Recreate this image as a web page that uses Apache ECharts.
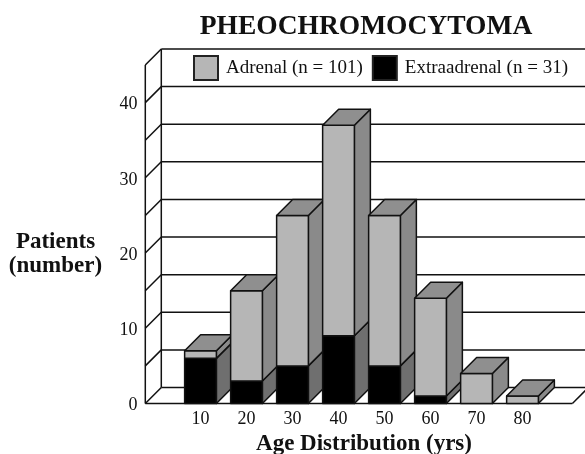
<!DOCTYPE html>
<html><head><meta charset="utf-8">
<style>html,body{margin:0;padding:0;background:#fff}#c{width:585px;height:454px}</style>
<script src="https://cdn.jsdelivr.net/npm/echarts@6/dist/echarts.min.js"></script>
</head><body><div id="c"></div>
<script>
const ages = [10, 20, 30, 40, 50, 60, 70, 80];
const adrenal = [1, 12, 20, 28, 20, 13, 4, 1];
const extraadrenal = [6, 3, 5, 9, 5, 1, 0, 0];
const gridValues = [0, 5, 10, 15, 20, 25, 30, 35, 40, 45];
const titleText = 'PHEOCHROMOCYTOMA';
const xName = 'Age Distribution (yrs)';
const yName = 'Patients\n(number)';
const adrenalName = 'Adrenal (n = 101)';
const extraName = 'Extraadrenal (n = 31)';

const SERIF = '"Liberation Serif","Times New Roman",serif';
const DEPTH = 16, BAR_W = 6.9, X_LEFT = -2, X_RIGHT = 90.85, STROKE = '#111', LW = 1.5;

function poly(points, fill, z2) {
  return {type: 'polygon', shape: {points}, z2, style: {fill, stroke: STROKE, lineWidth: LW, lineJoin: 'round'}};
}
function seg(a, b, z2) {
  return {type: 'line', shape: {x1: a[0], y1: a[1], x2: b[0], y2: b[1]}, z2, style: {stroke: STROKE, lineWidth: LW, fill: null}};
}
function frameItem(params, api) {
  const v = api.value(0);
  const l = api.coord([X_LEFT, v]), r = api.coord([X_RIGHT, v]);
  const children = [
    seg(l, [l[0] + DEPTH, l[1] - DEPTH], 1),
    seg([l[0] + DEPTH, l[1] - DEPTH], [r[0] + DEPTH, r[1] - DEPTH], 1)
  ];
  if (v === 0) {
    children.push(seg(l, r, 1), seg(r, [r[0] + DEPTH, r[1] - DEPTH], 1));
    const t = api.coord([X_LEFT, gridValues[gridValues.length - 1]]);
    children.push(seg(l, t, 1), seg([l[0] + DEPTH, l[1] - DEPTH], [t[0] + DEPTH, t[1] - DEPTH], 1));
  }
  return {type: 'group', children};
}
function barItem(front, side, top, order) {
  return function (params, api) {
    const age = api.value(0), val = api.value(1), base = api.value(2);
    if (!val) return {type: 'group', children: []};
    const a = api.coord([age - BAR_W / 2, base + val]);
    const b = api.coord([age + BAR_W / 2, base + val]);
    const c = api.coord([age + BAR_W / 2, base]);
    const d = api.coord([age - BAR_W / 2, base]);
    const off = p => [p[0] + DEPTH, p[1] - DEPTH];
    const z = params.dataIndex * 10 + 5 + order;
    const kids = [
      poly([b, c, off(c), off(b)], side, z),
      poly([a, b, c, d], front, z + 1)
    ];
    if (order === 1) kids.push(poly([a, b, off(b), off(a)], top, z + 1));
    return {type: 'group', children: kids};
  };
}
const adrenalData = ages.map((g, i) => [g, adrenal[i], extraadrenal[i]]);
const extraData = ages.map((g, i) => [g, extraadrenal[i], 0]);

const chart = echarts.init(document.getElementById('c'), null, {renderer: 'canvas'});
chart.setOption({
  animation: false,
  backgroundColor: '#fff',
  title: [
    {text: titleText, left: 361, top: 8, textAlign: 'center', textStyle: {fontFamily: SERIF, fontWeight: 'bold', fontSize: 27.5, color: '#111'}},
    {text: xName, left: 359, top: 428, textAlign: 'center', textStyle: {fontFamily: SERIF, fontWeight: 'bold', fontSize: 23, color: '#111'}},
    {text: yName, left: 50.5, top: 225, textAlign: 'center', textStyle: {fontFamily: SERIF, fontWeight: 'bold', fontSize: 23, lineHeight: 24, color: '#111'}}
  ],
  legend: {
    left: 193, top: 55, itemWidth: 24, itemHeight: 24, itemGap: 9,
    padding: 0,
    icon: 'rect',
    selectedMode: false,
    data: [adrenalName, extraName],
    textStyle: {fontFamily: SERIF, fontSize: 19, color: '#111', padding: [1, 0, 0, 3]}
  },
  grid: {left: 154.5, width: 414, top: 65, height: 338.5},
  xAxis: {
    type: 'value', min: 0, max: 90, interval: 10,
    splitLine: {show: false}, axisLine: {show: false}, axisTick: {show: false},
    axisLabel: {
      margin: 7, color: '#111', fontFamily: SERIF, fontSize: 18,
      showMinLabel: false, showMaxLabel: false,
      formatter: v => ages.includes(v) ? String(v) : ''
    }
  },
  yAxis: {
    type: 'value', min: 0, max: 45, interval: 10,
    splitLine: {show: false}, axisLine: {show: false}, axisTick: {show: false},
    axisLabel: {
      margin: 17, color: '#111', fontFamily: SERIF, fontSize: 18,
      verticalAlign: 'top', lineHeight: 4,
      showMaxLabel: false,
      formatter: v => v > 40 ? '' : String(v)
    }
  },
  series: [
    {type: 'custom', name: 'frame', silent: true, clip: false, renderItem: frameItem,
     data: gridValues.map(v => [v]), encode: {y: 0}},
    {type: 'custom', name: extraName, silent: true, clip: false,
     renderItem: barItem('#000', '#6f6f6f', '#6f6f6f', 0),
     itemStyle: {color: '#000', borderColor: '#222', borderWidth: 1.5},
     data: extraData, encode: {x: 0, y: 1}},
    {type: 'custom', name: adrenalName, silent: true, clip: false,
     renderItem: barItem('#b6b6b6', '#8a8a8a', '#8f8f8f', 1),
     itemStyle: {color: '#b6b6b6', borderColor: '#222', borderWidth: 1.5},
     data: adrenalData, encode: {x: 0, y: 1}}
  ]
});
</script></body></html>
